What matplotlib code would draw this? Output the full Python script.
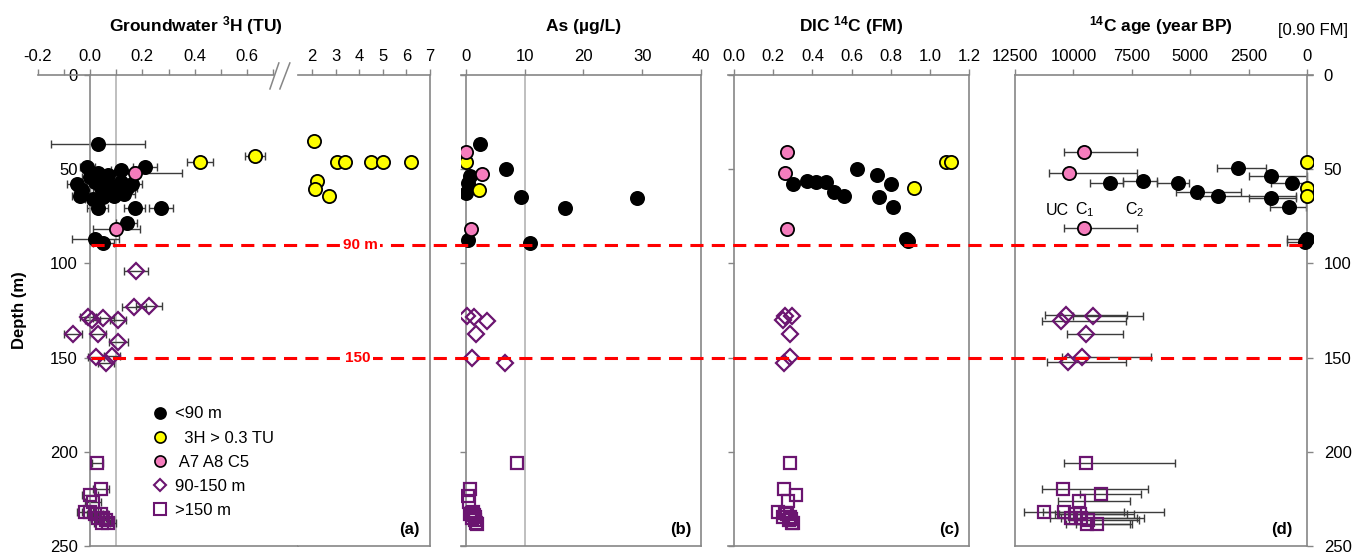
import matplotlib.pyplot as plt
import matplotlib.transforms as mtransforms
from matplotlib.lines import Line2D

plt.rcParams['font.family'] = ['Liberation Sans', 'DejaVu Sans']
plt.rcParams['mathtext.fontset'] = 'custom'
plt.rcParams['mathtext.rm'] = 'Liberation Sans'
plt.rcParams['mathtext.bf'] = 'Liberation Sans:bold'
plt.rcParams['mathtext.it'] = 'Liberation Sans:italic'

# ---- panel (a): groundwater tritium (TU) ----
h3_black = [0.03, -0.01, 0.12, 0.21, -0.05, -0.03, 0.00, 0.02, 0.04, 0.06, 0.08, 0.10,
            0.12, 0.14, 0.16, -0.04, 0.01, 0.05, 0.09, 0.13, 0.03, 0.07, 0.03, 0.17,
            0.27, 0.14, 0.02, 0.05]
h3_black_d = [36.6, 48.6, 50.4, 48.8, 58, 61, 54, 57, 60, 55, 59, 62,
              57, 60, 58, 64, 66, 65, 64, 63, 52, 53, 70.6, 70.6,
              70.6, 78.4, 87, 89]
h3_black_err = [0.18, 0.03, 0.04, 0.045, 0.04, 0.03, 0.03, 0.04, 0.03, 0.04, 0.03, 0.04,
                0.04, 0.04, 0.04, 0.03, 0.03, 0.04, 0.03, 0.04, 0.03, 0.04, 0.04, 0.04,
                0.045, 0.04, 0.09, 0.04]
h3_yellow = [0.42, 0.63, 2.06, 3.05, 3.4, 4.5, 5.0, 6.2, 2.2, 2.1, 2.73]
h3_yellow_d = [46.4, 42.8, 34.9, 46.4, 46.4, 46.4, 46.4, 46.4, 56.3, 60.7, 64.2]
h3_yellow_err = [0.05, 0.04, 0, 0, 0, 0, 0, 0, 0, 0, 0]
h3_pink = [0.17, 0.10]
h3_pink_d = [52, 81.9]
h3_pink_err = [0.18, 0.09]
h3_dia = [0.176, 0.168, 0.226, -0.009, 0.009, 0.05, 0.106, -0.064, 0.03, 0.108, 0.022, 0.083, 0.061]
h3_dia_d = [104, 123.3, 122.6, 128.3, 130, 128.8, 130, 137.6, 137.6, 141.9, 149.9, 149.2, 153]
h3_dia_err = [0.045, 0.045, 0.05, 0.03, 0.03, 0.04, 0.03, 0.035, 0.03, 0.035, 0.03, 0.03, 0.03]
h3_sq = [0.028, 0.041, 0.0, 0.01, -0.02, 0.0, 0.02, 0.04, 0.05, 0.03, 0.06, 0.045, 0.07]
h3_sq_d = [206, 220, 223, 226.5, 232, 232, 233, 233, 235, 235, 236, 238, 238]
h3_sq_err = [0.02, 0.03, 0.03, 0.03, 0.03, 0.03, 0.03, 0.03, 0.03, 0.03, 0.03, 0.03, 0.03]

# ---- panel (b): As (ug/L) ----
as_black = [2.3, 6.8, 0.6, 0.4, 0.0, 9.3, 29.1, 16.9, 0.4, 10.9]
as_black_d = [36.6, 50, 53.6, 57.5, 62.5, 64.6, 65.5, 70.8, 87.6, 89]
as_yellow = [0.0, 2.2]
as_yellow_d = [46, 61]
as_pink = [0.0, 2.8, 0.85]
as_pink_d = [41, 52.6, 81.9]
as_dia = [0.18, 1.4, 3.5, 1.7, 1.1, 6.7]
as_dia_d = [128, 128.3, 130.4, 137.5, 150.4, 153]
as_sq = [8.7, 0.7, 0.36, 0.5, 1.2, 1.0, 0.6, 1.4, 1.6, 1.1, 1.5, 1.8, 1.7]
as_sq_d = [206, 220, 223.5, 226.5, 231.8, 232.7, 233, 233.5, 234.8, 235, 236, 238.5, 238]

# ---- panel (c): DIC 14C (FM) ----
fm_black = [0.30, 0.37, 0.42, 0.47, 0.51, 0.56, 0.63, 0.73, 0.74, 0.80, 0.81, 0.88, 0.89]
fm_black_d = [58, 56, 57, 57, 62, 64, 50, 53, 65, 58, 70, 87, 88]
fm_yellow = [1.08, 1.11, 0.92]
fm_yellow_d = [46, 46, 60]
fm_pink = [0.27, 0.26, 0.27]
fm_pink_d = [41, 52, 82]
fm_dia = [0.26, 0.296, 0.247, 0.287, 0.283, 0.254]
fm_dia_d = [128, 128, 130, 137.5, 149.6, 153]
fm_sq = [0.287, 0.254, 0.314, 0.277, 0.223, 0.26, 0.27, 0.283, 0.25, 0.29, 0.28, 0.296, 0.3]
fm_sq_d = [205.8, 220, 223, 226, 232.2, 232.7, 233, 234.8, 234.8, 235.5, 236, 238, 238]

# ---- panel (d): 14C age (year BP), C1 with UC..C2 range ----
age_black = [2980, 1540, 660, 8430, 7030, 5510, 4720, 3800, 1540, 760, 0, 100]
age_black_uc = [3840, 2470, 1540, 9290, 7890, 6440, 5610, 4580, 2470, 1610, 870, 870]
age_black_c2 = [1780, 0, 0, 7890, 6440, 5040, 2850, 480, 480, 50, 0, 0]
age_black_d = [49.5, 53.4, 57.1, 57.5, 56.3, 57.5, 61.9, 64, 65.1, 70.2, 87.2, 88.4]
age_yellow = [0, 0, 0]
age_yellow_d = [46, 60.2, 64.2]
age_pink = [9530, 10175, 9530]
age_pink_uc = [10400, 11030, 10400]
age_pink_c2 = [7260, 7260, 7290]
age_pink_d = [40.7, 51.8, 81.4]
age_dia = [10330, 9150, 10530, 9460, 9620, 10250]
age_dia_uc = [11220, 10000, 11360, 10290, 10480, 11150]
age_dia_c2 = [7720, 7040, 7750, 7880, 6660, 7770]
age_dia_d = [127.4, 128, 130.6, 137.5, 149.9, 152.5]
age_sq = [9460, 10460, 8800, 9760, 11250, 10400, 9930, 9720, 10100, 9670, 9360, 9400, 8980]
age_sq_uc = [10390, 11340, 9700, 10650, 12110, 11300, 10800, 10600, 11000, 10550, 10200, 10300, 9900]
age_sq_c2 = [5650, 6800, 7110, 7580, 7830, 6110, 7400, 7700, 7000, 7300, 7200, 7500, 7600]
age_sq_d = [206.1, 220, 222.6, 226, 232.1, 232.1, 232.8, 233, 235.3, 235.3, 236, 238.3, 238.3]

depth_ticks = [0, 50, 100, 150, 200, 250]
boundaries = [90, 150]
boundary_labels = ['90 m', '150']

GRAY = '#868686'
LIGHT = '#b4b4b4'
PURPLE = '#6b1570'
PINK = '#f57dbd'
ERR = '#3c3c3c'

W, H = 1356, 556
fig = plt.figure(figsize=(W / 100, H / 100), dpi=100)


def add_ax(x0, x1, y0=75, y1=546):
    ax = fig.add_axes([x0 / W, 1 - y1 / H, (x1 - x0) / W, (y1 - y0) / H])
    ax.set_ylim(250, 0)
    ax.set_yticks(depth_ticks)
    ax.xaxis.tick_top()
    for s in ax.spines.values():
        s.set_color(GRAY)
        s.set_linewidth(1.2)
    ax.tick_params(axis='both', direction='out', length=4, width=1, color=GRAY,
                   labelsize=12, pad=4)
    ax.tick_params(axis='x', which='minor', direction='out', length=4, width=1, color=GRAY)
    return ax


def circles(ax, x, y, face, xerr=None, edge='black'):
    if xerr is not None:
        ax.errorbar(x, y, xerr=xerr, fmt='none', ecolor=ERR, elinewidth=1,
                    capsize=3, capthick=1, zorder=2)
    ax.plot(x, y, 'o', ms=9.5, mfc=face, mec=edge, mew=1.3, ls='none', zorder=4)


def diamonds(ax, x, y, xerr=None):
    if xerr is not None:
        ax.errorbar(x, y, xerr=xerr, fmt='none', ecolor=ERR, elinewidth=1,
                    capsize=3, capthick=1, zorder=2)
    ax.plot(x, y, 'D', ms=8.5, mfc='none', mec=PURPLE, mew=1.6, ls='none', zorder=3)


def squares(ax, x, y, xerr=None):
    if xerr is not None:
        ax.errorbar(x, y, xerr=xerr, fmt='none', ecolor=ERR, elinewidth=1,
                    capsize=3, capthick=1, zorder=2)
    ax.plot(x, y, 's', ms=8.5, mfc='none', mec=PURPLE, mew=1.6, ls='none', zorder=3)


# ---------- panel (a), left part ----------
a1 = add_ax(37.7, 297.7)
a1.set_xlim(-0.2, 0.793)
a1.spines['left'].set_position(('data', 0))
a1.spines['right'].set_visible(False)
a1.spines['top'].set_bounds(-0.2, 0.7)
a1.spines['bottom'].set_bounds(0, 0.793)
a1.set_xticks([-0.2, 0.0, 0.2, 0.4, 0.6])
a1.set_xticks([-0.1, 0.1, 0.3, 0.5, 0.7], minor=True)
a1.set_xticklabels(['-0.2', '0.0', '0.2', '0.4', '0.6'])
a1.tick_params(axis='y', pad=5)
a1.axvline(0.1, color=LIGHT, lw=1.2, zorder=1)
for bx in ([0.687, 0.721], [0.725, 0.763]):
    a1.plot(bx, [7.4, -6.4], color=GRAY, lw=1.1, clip_on=False)

circles(a1, h3_black, h3_black_d, 'black', h3_black_err)
circles(a1, h3_yellow[:2], h3_yellow_d[:2], '#ffff00', h3_yellow_err[:2])
circles(a1, h3_pink, h3_pink_d, PINK, h3_pink_err)
diamonds(a1, h3_dia, h3_dia_d, h3_dia_err)
squares(a1, h3_sq, h3_sq_d, h3_sq_err)

# ---------- panel (a), right part ----------
a2 = add_ax(297.7, 430)
a2.set_xlim(1.38, 7)
a2.spines['left'].set_visible(False)
a2.set_xticks([2, 3, 4, 5, 6, 7])
a2.tick_params(axis='y', left=False, labelleft=False)
circles(a2, h3_yellow[2:], h3_yellow_d[2:], '#ffff00')
a2.text(0.92, 0.02, '(a)', transform=a2.transAxes, ha='right', va='bottom',
        fontsize=12, fontweight='bold')

# ---------- panel (b) ----------
b = add_ax(460.7, 701)
b.set_xlim(-0.9, 40)
b.spines['left'].set_position(('data', 0))
b.set_xticks([0, 10, 20, 30, 40])
b.tick_params(axis='y', labelleft=False)
b.axvline(10, color=LIGHT, lw=1.2, zorder=1)
circles(b, as_black, as_black_d, 'black')
circles(b, as_yellow, as_yellow_d, '#ffff00')
circles(b, as_pink, as_pink_d, PINK)
diamonds(b, as_dia, as_dia_d)
squares(b, as_sq, as_sq_d)
b.text(0.96, 0.02, '(b)', transform=b.transAxes, ha='right', va='bottom',
       fontsize=12, fontweight='bold')

# ---------- panel (c) ----------
c = add_ax(728.3, 969)
c.set_xlim(-0.03, 1.2)
c.spines['left'].set_position(('data', 0))
c.set_xticks([0.0, 0.2, 0.4, 0.6, 0.8, 1.0, 1.2])
c.set_xticklabels(['0.0', '0.2', '0.4', '0.6', '0.8', '1.0', '1.2'])
c.tick_params(axis='y', labelleft=False)
circles(c, fm_black, fm_black_d, 'black')
circles(c, fm_yellow, fm_yellow_d, '#ffff00')
circles(c, fm_pink, fm_pink_d, PINK)
diamonds(c, fm_dia, fm_dia_d)
squares(c, fm_sq, fm_sq_d)
c.text(0.96, 0.02, '(c)', transform=c.transAxes, ha='right', va='bottom',
       fontsize=12, fontweight='bold')

# ---------- panel (d) ----------
d = add_ax(1015, 1313)
d.set_xlim(12500, -250)
d.spines['right'].set_position(('data', 0))
d.set_xticks([12500, 10000, 7500, 5000, 2500, 0])
d.set_xticklabels(['12500', '10000', '7500', '5000', '2500', '0'])
d.yaxis.tick_right()
d.tick_params(axis='y', pad=8)
d.spines['bottom'].set_bounds(12500, 0)


def age_err(c1, uc, c2):
    return [[v - y for v, y in zip(c1, c2)], [u - v for v, u in zip(c1, uc)]]


circles(d, age_black, age_black_d, 'black', age_err(age_black, age_black_uc, age_black_c2))
circles(d, age_yellow, age_yellow_d, '#ffff00')
circles(d, age_pink, age_pink_d, PINK, age_err(age_pink, age_pink_uc, age_pink_c2))
diamonds(d, age_dia, age_dia_d, age_err(age_dia, age_dia_uc, age_dia_c2))
squares(d, age_sq, age_sq_d, age_err(age_sq, age_sq_uc, age_sq_c2))
d.text(0.93, 0.02, '(d)', transform=d.transAxes, ha='right', va='bottom',
       fontsize=12, fontweight='bold')
d.text(10700, 71.7, 'UC', ha='center', va='center', fontsize=11.5)
d.text(9530, 71.7, 'C$_1$', ha='center', va='center', fontsize=11.5)
d.text(7370, 71.7, 'C$_2$', ha='center', va='center', fontsize=11.5)

# ---------- boundaries across all panels ----------
tr = mtransforms.blended_transform_factory(fig.transFigure, a1.transData)
for yb, lab, xl in zip(boundaries, boundary_labels, [360, 358]):
    fig.add_artist(Line2D([91 / W, 1305 / W], [yb, yb], transform=tr, color='red',
                          lw=2.2, linestyle=(0, (4.3, 2.7)), zorder=5))
    fig.text(xl / W, yb, lab, transform=tr, color='red', fontsize=11, fontweight='bold',
             ha='center', va='center', zorder=6,
             bbox=dict(facecolor='white', edgecolor='none', pad=1.5))

# ---------- titles and labels ----------
def ftext(x, y, s, **kw):
    fig.text(x / W, 1 - y / H, s, **kw)


ftext(196, 26, r'Groundwater $\mathbf{^3}$H (TU)', ha='center', va='center',
      fontsize=12.5, fontweight='bold')
ftext(583.5, 26, r'As (µg/L)', ha='center', va='center', fontsize=12.5, fontweight='bold')
ftext(851.5, 26, r'DIC $\mathbf{^{14}}$C (FM)', ha='center', va='center',
      fontsize=12.5, fontweight='bold')
ftext(1161, 26, r'$\mathbf{^{14}}$C age (year BP)', ha='center', va='center',
      fontsize=12.5, fontweight='bold')
ftext(1313, 31, '[0.90 FM]', ha='center', va='center', fontsize=12)
ftext(20, 310, 'Depth (m)', ha='center', va='center', rotation=90, fontsize=12,
      fontweight='bold')

handles = [
    Line2D([], [], marker='o', ls='none', ms=8, mfc='black', mec='black', mew=1.2),
    Line2D([], [], marker='o', ls='none', ms=8, mfc='#ffff00', mec='black', mew=1.2),
    Line2D([], [], marker='o', ls='none', ms=8, mfc=PINK, mec='black', mew=1.2),
    Line2D([], [], marker='D', ls='none', ms=6, mfc='none', mec=PURPLE, mew=1.5),
    Line2D([], [], marker='s', ls='none', ms=8, mfc='none', mec=PURPLE, mew=1.5),
]
labels = ['<90 m', '  3H > 0.3 TU', ' A7 A8 C5', '90-150 m', '>150 m']
fig.legend(handles, labels, loc='upper left', bbox_to_anchor=(143 / W, 1 - 398 / H),
           frameon=False, fontsize=12, borderpad=0, handlelength=1.0,
           handletextpad=0.4, labelspacing=0.55)

fig.savefig('out.png', dpi=100)
